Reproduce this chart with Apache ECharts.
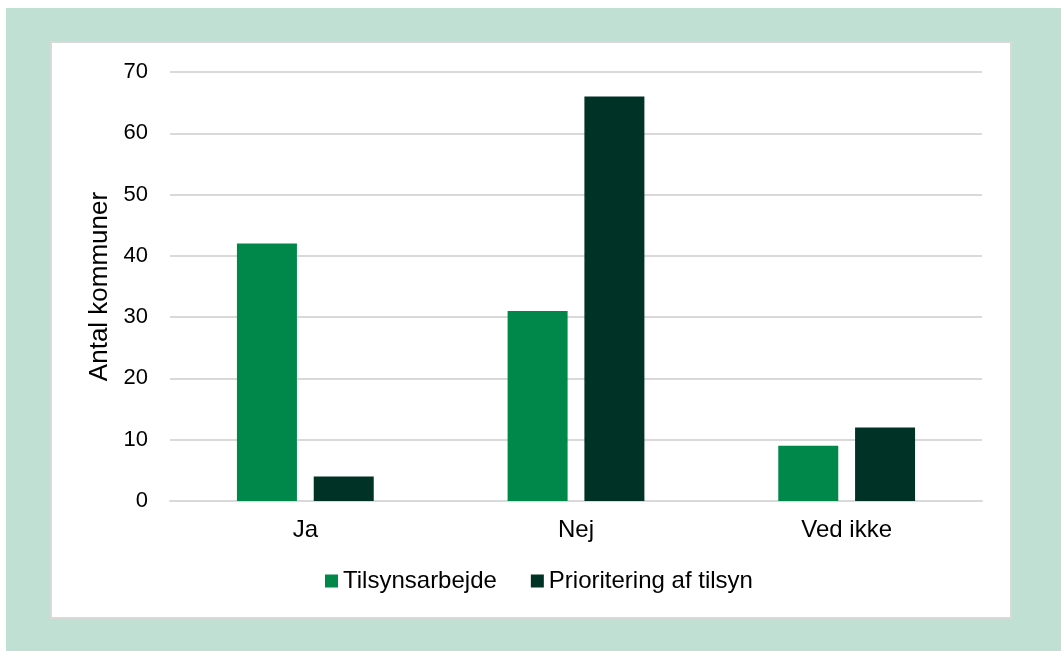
<!DOCTYPE html>
<html>
<head>
<meta charset="utf-8">
<script src="https://cdn.jsdelivr.net/npm/echarts@6/dist/echarts.min.js"></script>
<style>
  html, body { margin: 0; padding: 0; background: #fff; }
  #chart { width: 1061px; height: 651px; }
</style>
</head>
<body>
<div id="chart"></div>
<script>
const categories = ['Ja', 'Nej', 'Ved ikke']
const seriesNames = ['Tilsynsarbejde', 'Prioritering af tilsyn']
const tilsynsarbejde = [42, 31, 9]
const prioritering = [4, 66, 12]

const font = '"Liberation Sans", Arial, sans-serif'

const chart = echarts.init(document.getElementById('chart'))
chart.setOption({
  animation: false,
  textStyle: { fontFamily: font },
  graphic: [
    { type: 'rect', z: -10, shape: { x: 6, y: 8, width: 1055, height: 643 }, style: { fill: '#bfe0d2' } },
    { type: 'rect', z: -9, shape: { x: 51, y: 42, width: 960, height: 576 }, style: { fill: '#fff', stroke: '#d9d9d9', lineWidth: 2 } }
  ],
  grid: { left: 170, right: 79, top: 72, bottom: 150 },
  legend: {
    data: seriesNames,
    top: 564,
    left: 320,
    itemWidth: 13,
    itemHeight: 13,
    itemGap: 34,
    icon: 'rect',
    textStyle: { fontSize: 24, color: '#000', fontFamily: font }
  },
  xAxis: {
    type: 'category',
    data: categories,
    axisLine: { lineStyle: { color: '#d9d9d9', width: 2 } },
    axisTick: { show: false },
    axisLabel: { fontSize: 24, color: '#000', margin: 17 }
  },
  yAxis: {
    type: 'value',
    min: 0,
    max: 70,
    interval: 10,
    name: 'Antal kommuner',
    nameLocation: 'middle',
    nameGap: 57,
    nameTextStyle: { fontSize: 26, color: '#000' },
    axisLine: { show: false },
    axisTick: { show: false },
    axisLabel: { fontSize: 22, color: '#000', margin: 22 },
    splitLine: { lineStyle: { color: '#d9d9d9', width: 2 } }
  },
  series: [
    { name: seriesNames[0], type: 'bar', data: tilsynsarbejde, barWidth: 60, barGap: '28%', itemStyle: { color: '#00874a' } },
    { name: seriesNames[1], type: 'bar', data: prioritering, barWidth: 60, itemStyle: { color: '#003326' } }
  ]
})
</script>
</body>
</html>
